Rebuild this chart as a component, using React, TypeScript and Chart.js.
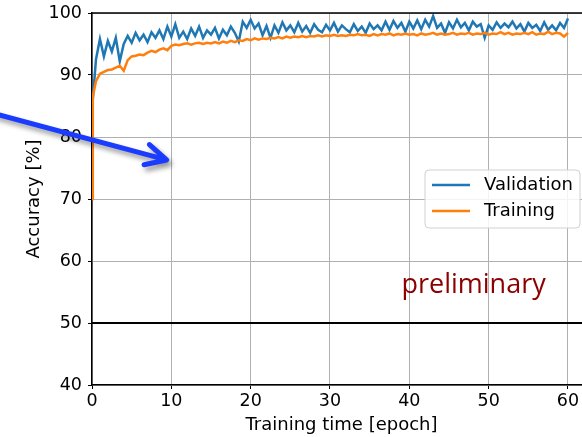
import React, { useEffect, useRef } from "react";
import { Chart, registerables } from "chart.js";

Chart.register(...registerables);

// ---- data ----
const earlyEpochs = [0, 0.1];
const regularEpochs = Array.from({ length: 120 }, (_, i) => (i + 1) * 0.5);
const epochs = [...earlyEpochs, ...regularEpochs];

const validation: (number | null)[] = [
  null, 86.0,
  92.5, 95.8, 93.0, 95.5, 93.8, 96.0, 92.2, 95.0, 96.3, 95.2,
  96.8, 95.6, 96.5, 95.3, 96.9, 96.0, 97.2, 95.8, 97.8, 96.2,
  98.2, 96.0, 97.0, 95.8, 97.5, 96.3, 97.8, 96.0, 97.2, 96.5,
  97.6, 95.9, 97.3, 96.4, 97.8, 96.8, 95.4, 98.6, 97.6, 98.9,
  97.5, 98.3, 96.4, 97.9, 96.0, 98.0, 96.8, 98.5, 97.2, 98.0,
  96.9, 98.4, 97.0, 97.9, 96.8, 98.2, 97.3, 96.9, 98.1, 97.2,
  98.4, 97.0, 98.0, 97.4, 96.9, 98.2, 97.1, 97.8, 96.8, 98.3,
  97.4, 98.0, 97.2, 98.6, 97.3, 98.7, 97.6, 98.4, 97.0, 98.6,
  97.5, 98.8, 97.4, 98.9, 97.8, 99.5, 97.6, 98.3, 96.8, 98.5,
  97.5, 98.9, 97.7, 98.4, 97.2, 98.6, 97.8, 98.2, 96.0, 98.0,
  97.3, 98.5, 97.6, 98.3, 97.7, 98.6, 97.5, 98.2, 97.0, 98.4,
  97.6, 98.1, 97.1, 98.5, 97.3, 98.0, 97.2, 98.4, 97.6, 99.1,
];

const training: number[] = [
  70.0, 86.5,
  89.0, 90.2, 90.5, 90.8, 90.9, 91.2, 91.5, 90.7, 92.4, 93.0,
  93.1, 93.3, 93.2, 93.6, 93.9, 93.7, 94.1, 94.3, 94.0, 94.7,
  94.9, 94.8, 95.0, 95.1, 94.9, 95.1, 95.2, 95.0, 95.2, 95.1,
  95.3, 95.1, 95.4, 95.2, 95.5, 95.3, 95.6, 95.5, 95.8, 95.6,
  95.9, 95.7, 95.9, 95.8, 96.0, 95.9, 96.1, 95.9, 96.2, 96.0,
  96.2, 96.1, 96.3, 96.1, 96.3, 96.2, 96.4, 96.2, 96.4, 96.3,
  96.5, 96.3, 96.4, 96.3, 96.5, 96.4, 96.6, 96.4, 96.5, 96.3,
  96.6, 96.4, 96.6, 96.5, 96.7, 96.4, 96.6, 96.5, 96.7, 96.5,
  96.6, 96.4, 96.7, 96.5, 96.6, 96.8, 96.5, 96.7, 96.5, 96.6,
  96.8, 96.5, 96.7, 96.6, 96.8, 96.5, 96.7, 96.6, 96.8, 96.5,
  96.7, 96.6, 96.9, 96.6, 96.8, 96.5, 96.7, 96.6, 96.8, 96.6,
  96.9, 96.5, 96.7, 96.6, 97.0, 96.6, 96.8, 96.7, 96.2, 96.8,
];

const seriesLabels = ["Validation", "Training"];
const seriesColors = ["#1f77b4", "#ff7f0e"];
const chanceLevel = 50;
const stampText = "preliminary";
const stampAt = { x: 48.1, y: 54.8 };
const arrowFrom = { x: -13, y: 84.0 };
const arrowTo = { x: 9.4, y: 76.3 };

const xMin = 0;
const xMax = 62.9;
const yMin = 40;
const yMax = 100;

const FONT = "'DejaVu Sans', 'Liberation Sans', sans-serif";

const overlayPlugin = {
  id: "overlay",
  afterDatasetsDraw(chart: any) {
    const { ctx, chartArea, scales } = chart;
    const y = scales.y.getPixelForValue(chanceLevel);
    ctx.save();
    ctx.strokeStyle = "#000";
    ctx.lineWidth = 2;
    ctx.beginPath();
    ctx.moveTo(chartArea.left, y);
    ctx.lineTo(chartArea.right, y);
    ctx.stroke();
    ctx.restore();
  },
  afterDraw(chart: any) {
    const { ctx, chartArea, scales } = chart;
    ctx.save();
    // top spine
    ctx.strokeStyle = "#000";
    ctx.lineWidth = 1.5;
    ctx.beginPath();
    ctx.moveTo(chartArea.left - 0.75, chartArea.top);
    ctx.lineTo(chartArea.right, chartArea.top);
    ctx.stroke();

    // legend
    const bx = 425, by = 170, bw = 155, bh = 58, r = 4;
    ctx.fillStyle = "rgba(255,255,255,0.85)";
    ctx.strokeStyle = "#d0d0d0";
    ctx.lineWidth = 1;
    ctx.beginPath();
    ctx.moveTo(bx + r, by);
    ctx.lineTo(bx + bw - r, by);
    ctx.arcTo(bx + bw, by, bx + bw, by + r, r);
    ctx.lineTo(bx + bw, by + bh - r);
    ctx.arcTo(bx + bw, by + bh, bx + bw - r, by + bh, r);
    ctx.lineTo(bx + r, by + bh);
    ctx.arcTo(bx, by + bh, bx, by + bh - r, r);
    ctx.lineTo(bx, by + r);
    ctx.arcTo(bx, by, bx + r, by, r);
    ctx.closePath();
    ctx.fill();
    ctx.stroke();
    chart.data.datasets.forEach((ds: any, i: number) => {
      const ly = 185 + i * 26;
      ctx.strokeStyle = ds.borderColor;
      ctx.lineWidth = 2.5;
      ctx.beginPath();
      ctx.moveTo(432, ly);
      ctx.lineTo(470, ly);
      ctx.stroke();
      ctx.fillStyle = "#000";
      ctx.font = `18px ${FONT}`;
      ctx.textBaseline = "middle";
      ctx.textAlign = "left";
      ctx.fillText(ds.label, 484, ly);
    });

    // stamp text
    ctx.fillStyle = "#8b0000";
    ctx.font = `27px 'Open Sans', sans-serif`;
    ctx.textAlign = "center";
    ctx.textBaseline = "alphabetic";
    ctx.fillText(
      stampText,
      scales.x.getPixelForValue(stampAt.x),
      scales.y.getPixelForValue(stampAt.y)
    );

    // arrow
    const x0 = scales.x.getPixelForValue(arrowFrom.x);
    const y0 = scales.y.getPixelForValue(arrowFrom.y);
    const x1 = scales.x.getPixelForValue(arrowTo.x);
    const y1 = scales.y.getPixelForValue(arrowTo.y);
    const ang = Math.atan2(y0 - y1, x0 - x1);
    const headLen = 23;
    const spread = (27 * Math.PI) / 180;
    ctx.shadowColor = "rgba(0,0,0,0.4)";
    ctx.shadowBlur = 5;
    ctx.shadowOffsetX = 3;
    ctx.shadowOffsetY = 4;
    ctx.strokeStyle = "#1a3cff";
    ctx.lineWidth = 5;
    ctx.lineCap = "round";
    ctx.lineJoin = "round";
    ctx.beginPath();
    ctx.moveTo(x0, y0);
    ctx.lineTo(x1, y1);
    ctx.moveTo(x1 + headLen * Math.cos(ang + spread), y1 + headLen * Math.sin(ang + spread));
    ctx.lineTo(x1, y1);
    ctx.lineTo(x1 + headLen * Math.cos(ang - spread), y1 + headLen * Math.sin(ang - spread));
    ctx.stroke();
    ctx.restore();
  },
};

export default function App() {
  const canvasRef = useRef<HTMLCanvasElement | null>(null);

  useEffect(() => {
    if (!canvasRef.current) return;
    const tickFont = { family: FONT, size: 17.5 };
    const titleFont = { family: FONT, size: 18 };
    const chart = new Chart(canvasRef.current, {
      type: "line",
      data: {
        datasets: [
          {
            label: seriesLabels[0],
            data: epochs.map((e, i) => ({ x: e, y: validation[i] })),
            borderColor: seriesColors[0],
            backgroundColor: seriesColors[0],
            borderWidth: 2.5,
            pointRadius: 0,
            tension: 0,
            order: 1,
          },
          {
            label: seriesLabels[1],
            data: epochs.map((e, i) => ({ x: e, y: training[i] })),
            borderColor: seriesColors[1],
            backgroundColor: seriesColors[1],
            borderWidth: 2.5,
            pointRadius: 0,
            tension: 0,
            order: 0,
          },
        ],
      },
      options: {
        animation: false,
        responsive: false,
        maintainAspectRatio: false,
        layout: { padding: { top: 13, left: 0, right: 0, bottom: 0 } },
        plugins: { legend: { display: false }, tooltip: { enabled: false } },
        scales: {
          x: {
            type: "linear",
            min: xMin,
            max: xMax,
            ticks: {
              stepSize: 10,
              includeBounds: false,
              font: tickFont,
              color: "#000",
              padding: 2,
              maxRotation: 0,
            },
            grid: {
              color: "#b0b0b0",
              lineWidth: 1,
              drawTicks: true,
              tickLength: 4,
              tickColor: "#000",
              tickWidth: 1,
            },
            border: { display: true, color: "#000", width: 1.5 },
            title: {
              display: true,
              text: "Training time [epoch]",
              font: titleFont,
              color: "#000",
              padding: { top: 0, bottom: 1 },
            },
            afterFit: (scale: any) => {
              scale.height = 52;
              scale.paddingLeft = 0;
              scale.paddingRight = 0;
            },
          },
          y: {
            type: "linear",
            min: yMin,
            max: yMax,
            ticks: {
              stepSize: 10,
              font: tickFont,
              color: "#000",
              padding: 6,
            },
            grid: {
              color: "#b0b0b0",
              lineWidth: 1,
              drawTicks: true,
              tickLength: 4,
              tickColor: "#000",
              tickWidth: 1,
            },
            border: { display: true, color: "#000", width: 1.5 },
            title: {
              display: true,
              text: "Accuracy [%]",
              font: titleFont,
              color: "#000",
              padding: { top: 24, bottom: 0 },
            },
            afterFit: (scale: any) => {
              scale.width = 92;
              scale.paddingTop = 0;
              scale.paddingBottom = 0;
            },
          },
        },
      },
      plugins: [overlayPlugin],
    } as any);
    return () => chart.destroy();
  }, []);

  return (
    <div
      style={{
        position: "absolute",
        left: 0,
        top: 0,
        width: 582,
        height: 437,
        overflow: "hidden",
        background: "#fff",
      }}
    >
      <canvas ref={canvasRef} width={591} height={437} style={{ display: "block" }} />
    </div>
  );
}
